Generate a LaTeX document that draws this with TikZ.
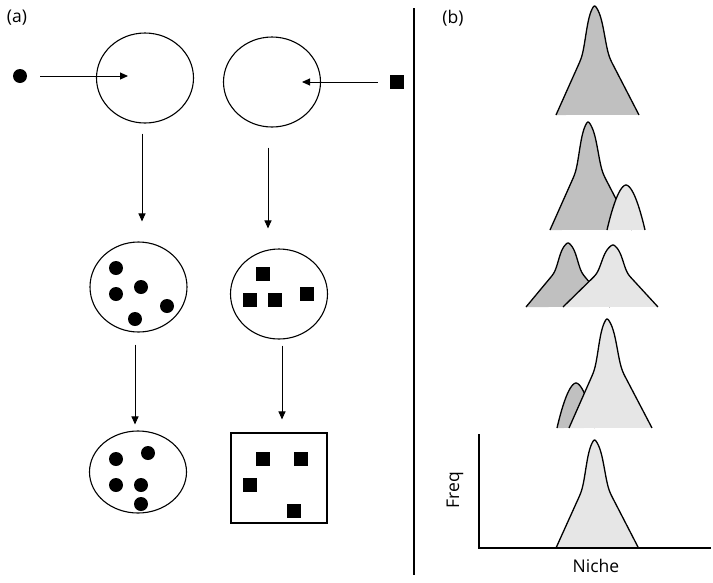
\documentclass[tikz,border=0pt]{standalone}
\usepackage{fontspec}
\setmainfont{Open Sans}
\usepackage{tikz}
\usetikzlibrary{arrows.meta, positioning, calc, shapes.geometric}
\definecolor{darkfill}{HTML}{C0C0C0}
\definecolor{lightfill}{HTML}{E6E6E6}

% niche curve: peak x, left half width, right half width, base y, height, fill
\newcommand{\nichecurve}[6]{%
  \draw[curve, fill=#6] plot[domain=-1:1, samples=161]
    ({#1+\x*(#2+#3)/2+abs(\x)*(#3-#2)/2},
     {#4-#5*(0.76*(1.0008-sqrt(\x*\x+0.0016))/0.9608+0.24*exp(-(\x/0.25)^4))});}
% small bump: centre x, base y, half width, height, fill
\newcommand{\nichebump}[5]{%
  \draw[curve, fill=#5] plot[domain=-1:1, samples=81]
    ({#1+#3*\x}, {#2-#4*(1-abs(\x)^1.8)});}

\begin{document}
\begin{tikzpicture}[
  x=1pt, y=-1pt,
  every node/.style={font=\fontsize{17.5}{21}\selectfont},
  arr/.style={-{Triangle[length=8pt, width=7pt]}, line width=1pt},
  pool/.style={draw, ellipse, line width=1.1pt, inner sep=0pt,
               minimum width=97pt, minimum height=90pt},
  dot/.style={circle, fill=black, inner sep=0pt, minimum size=14pt},
  sq/.style={rectangle, fill=black, inner sep=0pt, minimum size=14pt},
  curve/.style={line width=1.3pt, line join=round},
  axis/.style={line width=1.3pt}
]
  \useasboundingbox (0,0) rectangle (713,582);

  \node (labA) at (17,18) {(a)};
  \node (labB) at (453,18) {(b)};
  \draw[line width=1.4pt] (414,8) -- (414,575);

  % (a) colonisation
  \node[pool] (topL) at (145,78) {};
  \node[pool] (topR) at (272,82) {};
  \node[dot] (inDot) at (20,76) {};
  \node[sq] (inSq) at (397,82) {};
  \draw[arr, shorten <=13pt] (inDot) -- (128,76);
  \draw[arr, shorten <=12pt] (inSq) -- (302,82);

  \node[pool] (midL) at (138.5,287) {};
  \node[pool] (midR) at (279,294) {};
  \node[dot] (m1) at (116,268) {};
  \node[dot] (m2) at (116,294) {};
  \node[dot] (m3) at (141,287) {};
  \node[dot] (m4) at (167,306) {};
  \node[dot] (m5) at (135,319) {};
  \node[sq] (s1) at (263,274) {};
  \node[sq] (s2) at (250,300) {};
  \node[sq] (s3) at (275,300) {};
  \node[sq] (s4) at (307,294) {};

  \node[pool, minimum height=82pt] (botL) at (138,472) {};
  \node[draw, line width=1.1pt, minimum width=96pt, minimum height=90pt,
        inner sep=0pt] (botR) at (279,478) {};
  \node[dot] (b1) at (116,459) {};
  \node[dot] (b2) at (148,453) {};
  \node[dot] (b3) at (116,485) {};
  \node[dot] (b4) at (141,485) {};
  \node[dot] (b5) at (141,504) {};
  \node[sq] (t1) at (263,459) {};
  \node[sq] (t2) at (301,459) {};
  \node[sq] (t3) at (250,485) {};
  \node[sq] (t4) at (294,511) {};

  \draw[arr, shorten <=10pt, shorten >=20pt]
    ([xshift=-3pt]topL.south) -- ([xshift=3.5pt]midL.north);
  \draw[arr, shorten <=20pt, shorten >=20pt]
    ([xshift=-4pt]topR.south) -- ([xshift=-11pt]midR.north);
  \draw[arr, shorten <=12pt, shorten >=6pt]
    ([xshift=-3.5pt]midL.south) -- ([xshift=-3pt]botL.north);
  \draw[arr, shorten <=6pt, shorten >=13pt]
    ([xshift=3pt]midR.south) -- ([xshift=3pt]botR.north);

  % (b) niche curves
  \nichecurve{594.5}{38.5}{44.5}{115}{109}{darkfill}
  \nichecurve{588}{38}{44}{230}{108}{darkfill}
  \nichebump{626}{230}{19}{45}{lightfill}
  \nichecurve{568}{42}{42}{307}{64}{darkfill}
  \nichecurve{613}{50}{45}{307}{62}{lightfill}
  \nichebump{576}{428}{19}{45}{darkfill}
  \nichecurve{607}{38}{45}{428}{109}{lightfill}
  \nichecurve{594.5}{38.5}{44}{548}{108}{lightfill}

  \coordinate (axTop) at (479,434);
  \coordinate (axOrig) at (479,548);
  \coordinate (axEnd) at (711,548);
  \draw[axis] (axTop) -- (axOrig) -- (axEnd);
  \node (niche) at (596,566) {Niche};
  \node[rotate=90] (freq) at (455,490) {Freq};
\end{tikzpicture}
\end{document}
